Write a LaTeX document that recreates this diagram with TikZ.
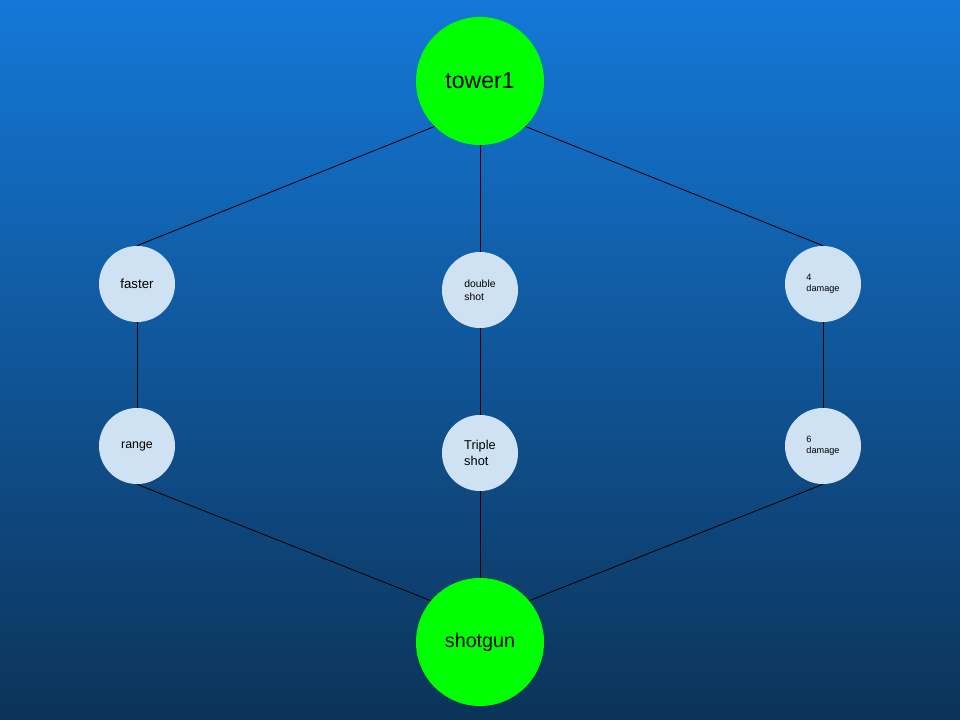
\documentclass[tikz,border=0pt]{standalone}
\usepackage{fontspec}
\setmainfont{Liberation Sans}
\definecolor{skytop}{RGB}{20,120,216}
\definecolor{skybottom}{RGB}{12,51,88}
\definecolor{leaf}{RGB}{0,255,0}
\definecolor{upgrade}{RGB}{207,226,243}
\begin{document}
\begin{tikzpicture}[
        x=0.025cm, y=-0.025cm,
        tower/.style={circle, fill=leaf, minimum size=3.2cm, inner sep=0pt},
        upgrade/.style={circle, fill=upgrade, minimum size=1.9cm, inner sep=0pt, align=left},
        link/.style={line width=0.6pt, black}
        ]
        \shade[top color=skytop, bottom color=skybottom] (0,0) rectangle (960,720);
        \useasboundingbox (0,0) rectangle (960,720);
        \node [tower, font=\fontsize{16.4}{19}\selectfont] (tower1) at (480,81) {tower1};
        \node [tower, font=\fontsize{14}{17}\selectfont] (shotgun) at (480,642) {shotgun};
        \node [upgrade, font=\fontsize{9.4}{11}\selectfont] (faster) at (137,284) {faster};
        \node [upgrade, font=\fontsize{7.4}{9.2}\selectfont] (double) at (480,290) {double\\shot};
        \node [upgrade, font=\fontsize{6.5}{7.8}\selectfont] (damage4) at (823,284) {4\\damage};
        \node [upgrade, font=\fontsize{8.8}{11}\selectfont] (range) at (137,446) {range};
        \node [upgrade, font=\fontsize{9.1}{11.2}\selectfont] (triple) at (480,453) {Triple\\shot};
        \node [upgrade, font=\fontsize{6.5}{7.8}\selectfont] (damage6) at (823,446) {6\\damage};
        \draw [link] (tower1.225) -- (faster.north);
        \draw [link] (tower1.south) -- (double.north);
        \draw [link] (tower1.315) -- (damage4.north);
        \draw [link] (faster.south) -- (range.north);
        \draw [link] (double.south) -- (triple.north);
        \draw [link] (damage4.south) -- (damage6.north);
        \draw [link] (range.south) -- (shotgun.140);
        \draw [link] (triple.south) -- (shotgun.north);
        \draw [link] (damage6.south) -- (shotgun.40);
    \end{tikzpicture}
\end{document}
